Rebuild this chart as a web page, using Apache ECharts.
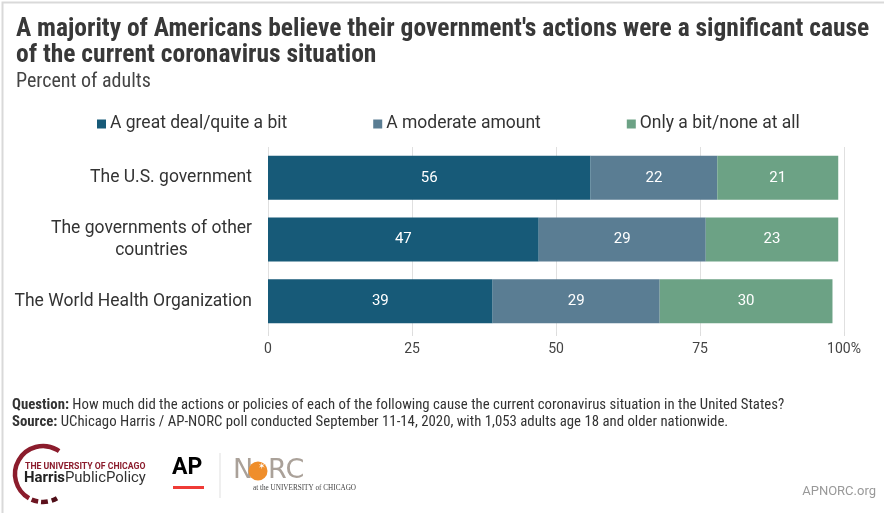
<!DOCTYPE html>
<html>
<head>
<meta charset="utf-8">
<script src="https://cdn.jsdelivr.net/npm/echarts@6/dist/echarts.min.js"></script>
<style>html,body{margin:0;padding:0;background:#fff}#c{width:884px;height:513px}</style>
</head>
<body>
<div id="c"></div>
<script>
const categories = ['The U.S. government', 'The governments of other\ncountries', 'The World Health Organization'];
const seriesNames = ['A great deal/quite a bit', 'A moderate amount', 'Only a bit/none at all'];
const greatDeal = [56, 47, 39];
const moderate = [22, 29, 29];
const onlyBit = [21, 23, 30];
const tickLabels = ['0', '25', '50', '75', '100%'];
const colors = ['#175a78', '#5a7d93', '#6ca285'];

const chart = echarts.init(document.getElementById('c'), null, {renderer: 'canvas'});
const NARROW = "'Liberation Sans Narrow', 'Roboto Condensed', Roboto, sans-serif";
const valuesList = [greatDeal, moderate, onlyBit];

chart.setOption({
  backgroundColor: '#fff',
  animation: false,
  title: {
    left: 11, top: 12,
    text: "A majority of Americans believe their government's actions were a significant cause\nof the current coronavirus situation",
    textStyle: {fontFamily: NARROW, fontWeight: 'bold', fontSize: 25.5, lineHeight: 26, color: '#383838'},
    subtext: 'Percent of adults',
    subtextStyle: {fontFamily: NARROW, fontSize: 20, lineHeight: 22, color: '#444'},
    itemGap: 2
  },
  legend: {
    left: 92, top: 110,
    itemWidth: 9, itemHeight: 9, itemGap: 86,
    icon: 'rect',
    textStyle: {fontFamily: 'Roboto', fontSize: 17.5, color: '#333', padding: [0,0,0,-1]},
    data: seriesNames
  },
  grid: {left: 268, right: 40, top: 147, bottom: 181, containLabel: false},
  xAxis: {
    type: 'value', min: 0, max: 100, interval: 25,
    axisLine: {show: false},
    axisTick: {show: true, length: 4, lineStyle: {color: '#ddd'}},
    splitLine: {show: true, lineStyle: {color: '#e0e0e0', width: 1}},
    axisLabel: {
      margin: 10, fontFamily: 'Roboto', fontSize: 14, color: '#444',
      formatter: function (v) { return tickLabels[Math.round(v / 25)]; }
    }
  },
  yAxis: {
    type: 'category', inverse: true, data: categories,
    axisLine: {show: false}, axisTick: {show: false},
    axisLabel: {
      margin: 16, fontFamily: 'Roboto', fontSize: 17.5, color: '#333', lineHeight: 22,
      formatter: function (v) {
        return v.split('\n').map(function (l) { return '{c|' + l + '}'; }).join('\n');
      },
      rich: {c: {align: 'center', fontFamily: 'Roboto', fontSize: 17.5, color: '#333', lineHeight: 22}}
    }
  },
  series: seriesNames.map(function (name, i) {
    return {
      name: name, type: 'bar', stack: 'total', barWidth: 44,
      itemStyle: {color: colors[i]},
      label: {show: true, position: 'inside', color: '#fff', fontFamily: 'Roboto', fontSize: 15},
      data: valuesList[i]
    };
  }),
  graphic: [
    {type: 'rect', left: 0, top: 0, shape: {width: 883, height: 512}, style: {fill: 'none', stroke: '#d9d9d9', lineWidth: 2}, silent: true},
    {type: 'text', left: 12, top: 397.5, style: {
      text: '{b|Question:} How much did the actions or policies of each of the following cause the current coronavirus situation in the United States?\n{b|Source:} UChicago Harris / AP-NORC poll conducted September 11-14, 2020, with 1,053 adults age 18 and older nationwide.',
      fontFamily: NARROW, fontSize: 14.8, lineHeight: 16.5, fill: '#333',
      rich: {b: {fontFamily: NARROW, fontWeight: 'bold', fontSize: 14.8, fill: '#333'}}
    }},
    // Harris logo arc
    {type: 'arc', shape: {cx: 43, cy: 474, r: 28, startAngle: 120 * Math.PI / 180, endAngle: 305 * Math.PI / 180, clockwise: true}, style: {stroke: '#8b1c2c', lineWidth: 4.5, fill: 'none'}},
    {type: 'arc', shape: {cx: 43, cy: 474, r: 28, startAngle: 100 * Math.PI / 180, endAngle: 114 * Math.PI / 180, clockwise: true}, style: {stroke: '#6e1522', lineWidth: 4.5, fill: 'none'}},
    {type: 'arc', shape: {cx: 43, cy: 474, r: 28, startAngle: 80 * Math.PI / 180, endAngle: 94 * Math.PI / 180, clockwise: true}, style: {stroke: '#5c101c', lineWidth: 4.5, fill: 'none'}},
    {type: 'arc', shape: {cx: 43, cy: 474, r: 28, startAngle: 60 * Math.PI / 180, endAngle: 72 * Math.PI / 180, clockwise: true}, style: {stroke: '#4f0e18', lineWidth: 4.5, fill: 'none'}},
    {type: 'text', left: 25, top: 462, style: {text: 'THE UNIVERSITY OF CHICAGO', fontFamily: 'Roboto', fontWeight: 'bold', fontSize: 8.7, fill: '#8b1c2c'}},
    {type: 'text', left: 24, top: 471, style: {
      text: '{h|Harris}{p|PublicPolicy}',
      rich: {h: {fontFamily: 'Roboto', fontWeight: 'bold', fontSize: 14.9, fill: '#222'},
             p: {fontFamily: 'Roboto', fontSize: 14.9, fill: '#333'}}
    }},
    // AP logo
    {type: 'text', left: 172, top: 457, style: {text: 'AP', fontFamily: 'Roboto', fontWeight: 'bold', fontSize: 23, fill: '#000'}},
    {type: 'rect', shape: {x: 173, y: 486, width: 31, height: 3}, style: {fill: '#ef3b36'}},
    {type: 'rect', shape: {x: 219.5, y: 453, width: 1, height: 45}, style: {fill: '#e0e0e0'}},
    // NORC logo
    {type: 'text', left: 233, top: 457, style: {text: 'N', fontFamily: 'DejaVu Sans', fontWeight: 'normal', fontSize: 27, fill: '#aaa199'}},
    {type: 'circle', shape: {cx: 258, cy: 471, r: 9.5}, style: {fill: '#ef8e2b'}},
    {type: 'text', x: 262, y: 467, style: {text: '✶', fontSize: 9, fill: '#fff', align: 'center', verticalAlign: 'middle'}},
    {type: 'text', left: 268, top: 457, style: {text: 'RC', fontFamily: 'DejaVu Sans', fontWeight: 'normal', fontSize: 27, fill: '#aaa199'}},
    {type: 'text', left: 253, top: 485, style: {text: 'at the UNIVERSITY of CHICAGO', fontFamily: 'Liberation Serif', fontSize: 7.2, fill: '#444'}},
    {type: 'text', right: 8, top: 485, style: {text: 'APNORC.org', fontFamily: 'Roboto', fontSize: 13, fill: '#999'}}
  ]
});
</script>
</body>
</html>
